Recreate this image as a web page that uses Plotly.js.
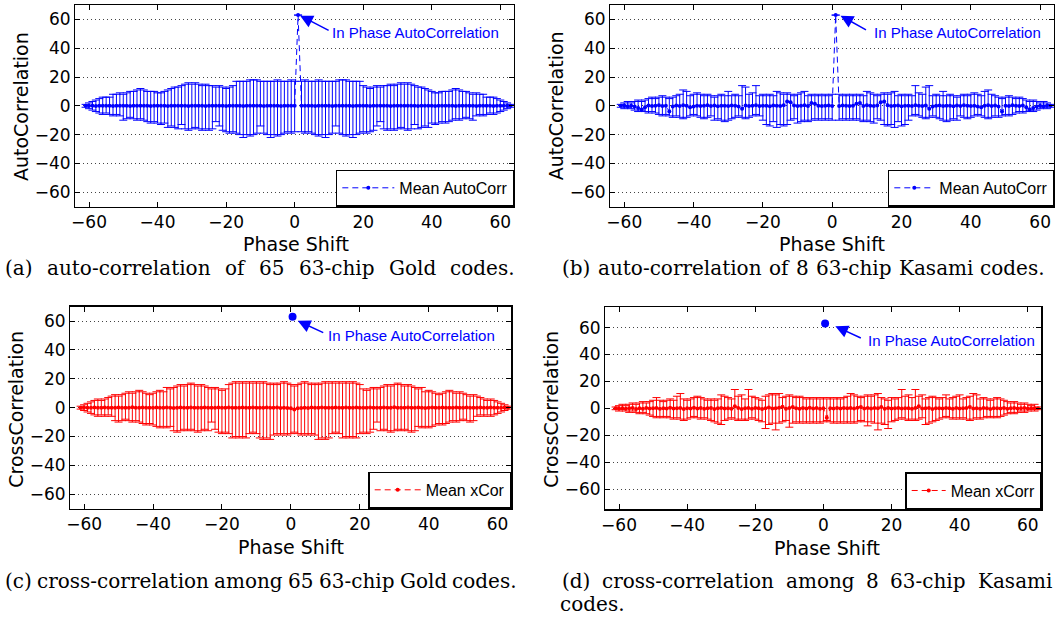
<!DOCTYPE html>
<html>
<head>
<meta charset="utf-8">
<script src="https://cdn.plot.ly/plotly-3.0.1.min.js"></script>
<style>html,body{margin:0;padding:0;background:#fff;}#chart{width:1057px;height:618px;}</style>
</head>
<body>
<div id="chart"></div>
<script>
// ---- data ----
const shifts = [-61,-60,-59,-58,-57,-56,-55,-54,-53,-52,-51,-50,-49,-48,-47,-46,-45,-44,-43,-42,-41,-40,-39,-38,-37,-36,-35,-34,-33,-32,-31,-30,-29,-28,-27,-26,-25,-24,-23,-22,-21,-20,-19,-18,-17,-16,-15,-14,-13,-12,-11,-10,-9,-8,-7,-6,-5,-4,-3,-2,-1,0,1,2,3,4,5,6,7,8,9,10,11,12,13,14,15,16,17,18,19,20,21,22,23,24,25,26,27,28,29,30,31,32,33,34,35,36,37,38,39,40,41,42,43,44,45,46,47,48,49,50,51,52,53,54,55,56,57,58,59,60,61,62,63];

// (a) Gold auto-correlation
const goldAutoMean = [0,0.1,0,-0.1,0,0.1,0,0,-0.1,0, 0.1,0,0,-0.1,0,0.1,0,0,0,-0.1, 0,0.1,0,0,-0.1,0,0,0.1,0,0, -0.1,0,0.1,0,0,-0.1,0,0,0.1,0, 0,-0.1,0,0.1,0,0,-0.1,0,0,0.1, 0,0,-0.1,0,0.1,0,0,-0.1,0,0, 0.1,0,
  63,
  0,0.1,0,0,-0.1,0,0,0.1,0,-0.1, 0,0,0.1,0,0,-0.1,0,0,0.1,0, -0.1,0,0,0.1,0,0,-0.1,0,0.1,0, 0,0.1,0,0,-0.1,0,0,0.1,0,-0.1, 0,0,0,0.1,0,-0.1,0,0,0.1,0, 0,-0.1,0,0,0.1,0,-0.1,0,0.1,0, 0,0.1];
const goldAutoMax = [1,2,3,4,5,6,6,6,8,8, 9,8,9,10,10,11,12,11,10,10, 10,9,9,10,11,12,13,13,14,15, 16,15,16,15,14,15,14,14,13,14, 13,12,13,14,17,17,17,17,18,18, 18,17,17,17,17,17,18,17,17,17, 18,17,
  63,
  17,18,17,17,17,18,17,17,17,17, 17,18,18,18,17,17,17,17,14,13, 12,13,14,13,14,14,15,14,15,16, 15,16,15,14,13,13,12,11,10,9, 9,10,10,10,11,12,11,10,10,9, 8,9,8,8,6,6,6,5,4,3, 2,1];
const goldAutoMin = [-1,-2,-3,-4,-5,-6,-5,-6,-7,-6, -7,-10,-9,-8,-9,-10,-9,-10,-11,-12, -11,-12,-13,-12,-15,-14,-15,-16,-13,-16, -17,-16,-15,-16,-17,-16,-17,-16,-11,-14, -17,-18,-19,-18,-19,-20,-22,-20,-21,-20, -19,-14,-19,-20,-22,-20,-21,-20,-19,-18, -19,-18,
  63,
  -18,-19,-18,-19,-20,-21,-20,-22,-20,-19, -14,-19,-20,-21,-20,-22,-20,-19,-18,-19, -18,-17,-14,-11,-16,-17,-16,-17,-16,-15, -16,-17,-16,-13,-16,-15,-14,-15,-12,-13, -12,-11,-12,-11,-10,-9,-10,-9,-8,-9, -10,-7,-6,-7,-6,-5,-6,-5,-4,-3, -2,-1];

// (b) Kasami auto-correlation
const kasamiAutoMean = [0,0.2,-0.3,0.1,-0.5,-1.5,-2.5,-1,0.2,-0.2, 0.1,0.3,-0.2,0,-4,-0.5,0.2,-0.1,0.3,0, -1,-0.5,0.1,-0.2,0,0.3,-0.1,0.2,-0.3,0, 0.1,-0.2,0.2,0,-0.5,-2,0.2,-0.1,0,0.3, -0.2,0.1,0,-0.3,0.2,0,-0.1,0.4,3,2.5, 0.2,-0.2,0,0.3,-0.1,2,1.5,0.1,-0.2,0, 0.2,-0.1,
  63,
  -0.1,0.2,0,-0.2,0.1,1.5,2,-0.1,0.3,0, -0.2,0.2,2.5,3,0.4,-0.1,0,0.2,-0.3,0, 0.1,-0.2,0.3,0,-0.1,0.2,-2,-0.5,0,0.2, -0.2,0.1,0,-0.3,0.2,-0.1,0.3,0,-0.2,0.1, -0.5,-1,0,0.3,-0.1,0.2,-0.5,-4,0,-0.2, 0.3,0.1,-0.2,0.2,-1,-2.5,-1.5,-0.5,0.1,-0.3, 0.2,0];
const kasamiAutoMax = [1,2,3,2,3,4,3,4,5,6, 5,6,7,6,5,6,7,8,11,10, 7,8,9,8,7,8,7,6,7,8, 7,10,7,8,7,14,13,8,9,14, 7,8,7,8,7,10,9,8,9,8, 7,8,9,10,7,8,7,8,7,8, 7,8,
  63,
  8,7,8,7,8,7,8,7,10,9, 8,7,8,9,8,9,10,7,8,7, 8,7,14,9,8,13,14,7,8,7, 10,7,8,7,6,7,8,7,8,9, 8,7,10,11,8,7,6,5,6,7, 6,5,6,5,4,3,4,3,2,3, 2,1];
const kasamiAutoMin = [-1,-2,-1,-2,-3,-4,-3,-4,-5,-4, -5,-6,-7,-6,-7,-8,-7,-8,-9,-8, -7,-6,-7,-8,-9,-8,-7,-10,-9,-10, -11,-10,-9,-8,-7,-8,-9,-8,-7,-6, -7,-10,-13,-14,-11,-15,-13,-14,-13,-10, -9,-12,-11,-10,-11,-10,-9,-10,-9,-10, -9,-10,
  63,
  -10,-9,-10,-9,-10,-9,-10,-11,-10,-11, -12,-9,-10,-13,-14,-13,-15,-11,-14,-13, -10,-7,-6,-7,-8,-9,-8,-7,-8,-9, -10,-11,-10,-9,-10,-7,-8,-9,-8,-7, -6,-7,-8,-9,-8,-7,-8,-7,-6,-7, -6,-5,-4,-5,-4,-3,-4,-3,-2,-1, -2,-1];

// (c) Gold cross-correlation
const goldCrossMean = [0,0.1,-0.1,0,0.1,-0.1,0,0.1,0,-0.1, 0,0.1,0,-0.1,0,0.2,-0.1,0,0.1,0, -0.1,0,0.1,-0.1,0,0.1,0,-0.2,0,0.1, 0,-0.1,0.1,0,-0.1,0,0.1,0,-0.1,0, 0.1,-0.1,0,0.1,0,-0.1,0,0.1,-0.1,0, 0.1,0,-0.1,0,0.1,-0.1,0,0.1,-0.2,0, -0.3,-0.4,
  -1.2,
  -0.4,-0.3,0,-0.2,0.1,0,-0.1,0.1,0,-0.1, 0,0.1,-0.1,0,0.1,0,-0.1,0.1,0,-0.1, 0,0.1,0,-0.1,0,0.1,0,-0.1,0.2,0, -0.1,0,0.1,0,-0.1,0.1,0,-0.2,0,0.1, -0.1,0,0.1,0,-0.1,0,0.1,-0.1,0,0.1, 0,-0.1,0,0.1,0,-0.1,0.1,0,-0.1,0, 0.1,0];
const goldCrossMax = [1,2,3,4,5,6,5,6,7,8, 9,8,9,10,11,10,11,12,11,10, 9,10,11,12,11,14,13,14,15,16, 15,16,17,16,15,16,15,14,13,14, 13,12,13,16,17,18,17,18,17,18, 17,18,17,18,17,16,17,16,17,18, 17,16,
  15,
  16,17,18,17,16,17,16,17,18,17, 18,17,18,17,18,17,18,17,16,13, 12,13,14,13,14,15,16,15,16,17, 16,15,16,15,14,13,14,11,12,11, 10,9,10,11,12,11,10,11,10,9, 8,9,8,7,6,5,6,5,4,3, 2,1];
const goldCrossMin = [-1,-2,-3,-4,-5,-6,-5,-6,-5,-6, -9,-10,-9,-8,-9,-10,-9,-10,-11,-12, -11,-12,-13,-14,-13,-14,-13,-16,-17,-16, -15,-16,-15,-16,-17,-16,-15,-16,-10,-15, -17,-18,-17,-18,-21,-20,-21,-20,-21,-18, -17,-18,-21,-22,-21,-22,-19,-18,-19,-18, -19,-18,
  -17,
  -18,-19,-18,-19,-18,-19,-22,-21,-22,-21, -18,-17,-18,-21,-20,-21,-20,-21,-18,-17, -18,-17,-15,-10,-16,-15,-16,-17,-16,-15, -16,-15,-16,-17,-16,-13,-14,-13,-14,-13, -12,-11,-12,-11,-10,-9,-10,-9,-8,-9, -10,-9,-6,-5,-6,-5,-6,-5,-4,-3, -2,-1];

// (d) Kasami cross-correlation
const kasamiCrossMean = [0,-0.2,0.1,-0.3,0,0.2,-0.4,0,-0.3,0.2, -0.2,0,0.3,-0.3,0,-0.2,0.4,-0.1,0,0.3, -0.4,0,-0.2,0.5,-0.1,0.2,-0.3,0,0.2,-0.5, 0,0.3,-0.2,0,-0.3,1.5,0.2,-0.4,0,0.3, -0.3,0.2,0,-0.4,0.1,0.6,-0.2,0,0.4,1.2, -0.3,0.2,1,0,-0.3,0.3,-0.2,0.4,-0.1,0.2, -0.3,0.1,
  -7,
  0.1,-0.2,0.3,-0.1,0.2,0,0.3,-0.2,0.5,1, -0.2,0.3,-0.1,0.2,0,1,-0.3,0.2,-0.1,0, 0.3,-0.2,0.1,0,-0.3,0.2,1.5,-0.2,0,0.3, -0.4,0.1,0,-0.2,0.3,0,-0.3,0.2,-0.1,0, 0.3,1,-0.2,0,-0.3,0.2,0,-0.4,0.1,0, -0.2,0.3,-0.3,0,0.2,-0.1,0,0.2,-0.2,0, 0.1,0];
const kasamiCrossMax = [1,2,3,2,3,4,3,4,5,4, 5,6,8,6,5,6,7,6,9,11, 7,6,7,8,9,8,7,6,7,6, 7,10,9,8,7,14,9,10,7,14, 9,8,7,6,9,10,11,10,11,8, 9,10,9,8,9,8,7,8,7,8, 7,8,
  7,
  8,7,8,7,8,9,11,10,9,8, 9,10,9,10,11,8,7,6,8,7, 8,14,9,10,8,14,9,10,7,8, 9,8,7,8,10,7,8,9,10,7, 8,9,11,10,7,8,7,6,7,8, 7,6,5,4,5,4,3,4,3,2, 3,1];
const kasamiCrossMin = [-1,-2,-1,-2,-3,-2,-3,-4,-3,-4, -5,-6,-7,-6,-7,-6,-7,-8,-7,-8, -9,-8,-7,-6,-7,-8,-7,-8,-9,-10, -11,-12,-9,-8,-7,-8,-9,-8,-9,-8, -7,-8,-9,-10,-15,-12,-11,-16,-11,-10, -9,-14,-11,-10,-11,-10,-11,-10,-11,-10, -11,-10,
  -9,
  -10,-11,-10,-11,-10,-11,-10,-11,-10,-9, -10,-13,-10,-11,-16,-11,-12,-15,-10,-9, -8,-7,-8,-9,-8,-9,-8,-7,-12,-11, -10,-9,-8,-7,-6,-7,-8,-7,-8,-7, -8,-9,-8,-7,-8,-7,-6,-7,-6,-7, -6,-5,-4,-3,-4,-3,-2,-3,-2,-1, -2,-1];

// in-phase auto-correlation marker (panels c, d)
const inPhaseX = [0.5];
const inPhaseY = [63];

const xTicks = [-60,-40,-20,0,20,40,60];
const yTicks = [-60,-40,-20,0,20,40,60];

const legendNames = ['Mean AutoCorr','Mean AutoCorr','Mean xCor','Mean xCorr'];
const yTitles = ['AutoCorrelation','AutoCorrelation','CrossCorrelation','CrossCorrelation'];
const xTitle = 'Phase Shift';
const annoText = 'In Phase AutoCorrelation';
const captionA = ['(a)','auto-correlation','of','65','63-chip','Gold','codes.'];
const captionB = ['(b)','auto-correlation','of','8','63-chip','Kasami','codes.'];
const captionC = ['(c)','cross-correlation','among','65','63-chip','Gold','codes.'];
const captionD1 = ['(d)','cross-correlation','among','8','63-chip','Kasami'];
const captionD2 = ['codes.'];

// ---- layout helpers ----
const W = 1057, H = 618;
const px = v => v / W;
const py = v => 1 - v / H;

const panels = [
  {l:75.3, r:514, t:5, b:206.6, yr:[-70,70]},
  {l:610.4, r:1054, t:5, b:206.6, yr:[-70,70]},
  {l:70.3, r:511.4, t:306.7, b:508.6, yr:[-70,70]},
  {l:605.4, r:1041.4, t:307.4, b:509.3, yr:[-75,75]}
];

const series = [
  {mean:goldAutoMean, max:goldAutoMax, min:goldAutoMin, color:'rgb(0,0,255)'},
  {mean:kasamiAutoMean, max:kasamiAutoMax, min:kasamiAutoMin, color:'rgb(0,0,255)'},
  {mean:goldCrossMean, max:goldCrossMax, min:goldCrossMin, color:'rgb(255,0,0)'},
  {mean:kasamiCrossMean, max:kasamiCrossMax, min:kasamiCrossMin, color:'rgb(255,0,0)'}
];
const legendItemWidth = [52, 40, 46, 34];

const traces = [];
const layout = {
  width: W, height: H,
  margin: {l:0, r:0, t:0, b:0},
  paper_bgcolor: '#fff', plot_bgcolor: '#fff',
  showlegend: true,
  annotations: [],
  font: {family: 'DejaVu Sans', color: '#000'}
};

const axisCommon = {
  showline: true, linecolor: '#000', linewidth: 1.3, mirror: 'ticks',
  ticks: 'inside', ticklen: 5, tickcolor: '#000', tickwidth: 1,
  tickfont: {family: 'DejaVu Sans', size: 17, color: '#000'},
  zeroline: false, fixedrange: true
};

panels.forEach((p, i) => {
  const n = i === 0 ? '' : String(i + 1);
  const xa = 'x' + n, ya = 'y' + n;
  const s = series[i];
  const legendId = 'legend' + n;
  layout['xaxis' + n] = Object.assign({}, axisCommon, {
    domain: [px(p.l), px(p.r)], anchor: ya, range: [-64, 64],
    tickmode: 'array', tickvals: xTicks, showgrid: false
  });
  layout['yaxis' + n] = Object.assign({}, axisCommon, {
    domain: [py(p.b), py(p.t)], anchor: xa, range: p.yr,
    tickmode: 'array', tickvals: yTicks, showgrid: true,
    gridcolor: '#444', griddash: '1px,3px', gridwidth: 1
  });
  traces.push({
    x: shifts, y: s.mean, type: 'scatter', mode: 'lines+markers',
    xaxis: xa, yaxis: ya, name: legendNames[i], legend: legendId, showlegend: true,
    line: {color: s.color, width: 1, dash: '6px,4px'},
    marker: {color: s.color, size: 4},
    error_y: {
      type: 'data', symmetric: false,
      array: s.max.map((v, k) => v - s.mean[k]),
      arrayminus: s.mean.map((v, k) => v - s.min[k]),
      color: s.color, thickness: 1, width: 4
    }
  });
  layout[legendId] = {
    x: px(p.r), y: py(p.b), xanchor: 'right', yanchor: 'bottom',
    bgcolor: '#fff', bordercolor: '#000', borderwidth: 1.3,
    itemwidth: legendItemWidth[i],
    font: {family: 'Liberation Sans', size: 16, color: '#000'}
  };
});

// in-phase markers in (c) and (d)
['3', '4'].forEach(n => {
  traces.push({
    x: inPhaseX, y: inPhaseY, type: 'scatter', mode: 'markers',
    xaxis: 'x' + n, yaxis: 'y' + n, showlegend: false,
    marker: {color: 'rgb(0,0,255)', size: 8}
  });
});

// arrows and labels
const arrows = [
  {xa:'x', ya:'y', x:1.6, y:62.6, ax:30, ay:15.5, tx:330, ty:32.8},
  {xa:'x2', ya:'y2', x:2.4, y:62.6, ax:27, ay:15, tx:871.6, ty:32.6},
  {xa:'x3', ya:'y3', x:2.0, y:60.2, ax:27, ay:12.5, tx:325.5, ty:335.2},
  {xa:'x4', ya:'y4', x:3.5, y:61.0, ax:27, ay:12.4, tx:865.6, ty:340.3}
];
arrows.forEach(a => {
  layout.annotations.push({
    xref: a.xa, yref: a.ya, x: a.x, y: a.y, ax: a.ax, ay: a.ay,
    text: '', showarrow: true, arrowhead: 2, arrowsize: 1.7, arrowwidth: 1.5,
    arrowcolor: 'rgb(0,0,255)', standoff: 0, startstandoff: 0
  });
  layout.annotations.push({
    xref: 'paper', yref: 'paper', x: px(a.tx), y: py(a.ty),
    xanchor: 'left', yanchor: 'middle', showarrow: false, text: annoText,
    font: {family: 'Liberation Sans', size: 15, color: 'rgb(0,0,255)'}
  });
});

// axis titles
const titlePos = [
  {yx:21.8, yy:106.3, xx:296.4, xy:244.5},
  {yx:556, yy:106.3, xx:832.2, xy:244.5},
  {yx:15.9, yy:408.8, xx:290.5, xy:547.2},
  {yx:550.9, yy:408.8, xx:827.2, xy:547.8}
];
titlePos.forEach((t, i) => {
  layout.annotations.push({
    xref: 'paper', yref: 'paper', x: px(t.yx), y: py(t.yy),
    xanchor: 'center', yanchor: 'middle', textangle: -90, showarrow: false,
    text: yTitles[i], font: {family: 'DejaVu Sans', size: 19, color: '#000'}
  });
  layout.annotations.push({
    xref: 'paper', yref: 'paper', x: px(t.xx), y: py(t.xy),
    xanchor: 'center', yanchor: 'middle', showarrow: false,
    text: xTitle, font: {family: 'DejaVu Sans', size: 19, color: '#000'}
  });
});

// captions: words justified across the caption line, like the typeset figure
const CAP_SIZE = 20, CAP_FAMILY = 'DejaVu Serif';
const capFont = {family: CAP_FAMILY, size: CAP_SIZE, color: '#000'};
const measureCtx = document.createElement('canvas').getContext('2d');
measureCtx.font = CAP_SIZE + 'px "' + CAP_FAMILY + '"';
function justifiedLine(words, left, right, y) {
  const widths = words.map(w => measureCtx.measureText(w).width);
  const total = widths.reduce((a, b) => a + b, 0);
  const gap = words.length > 1 ? (right - left - total) / (words.length - 1) : 0;
  let x = left;
  words.forEach((w, i) => {
    layout.annotations.push({
      xref: 'paper', yref: 'paper', x: px(x - 1), y: py(y),
      xanchor: 'left', yanchor: 'middle', showarrow: false,
      text: w, font: capFont, borderpad: 0
    });
    x += widths[i] + gap;
  });
}
justifiedLine(captionA, 5, 515, 268);
justifiedLine(captionB, 562, 1045, 268);
justifiedLine(captionC, 5, 517, 581);
justifiedLine(captionD1, 562, 1052, 581);
justifiedLine(captionD2, 560, 560, 604);

Plotly.newPlot('chart', traces, layout, {staticPlot: true, displayModeBar: false});
</script>
</body>
</html>
